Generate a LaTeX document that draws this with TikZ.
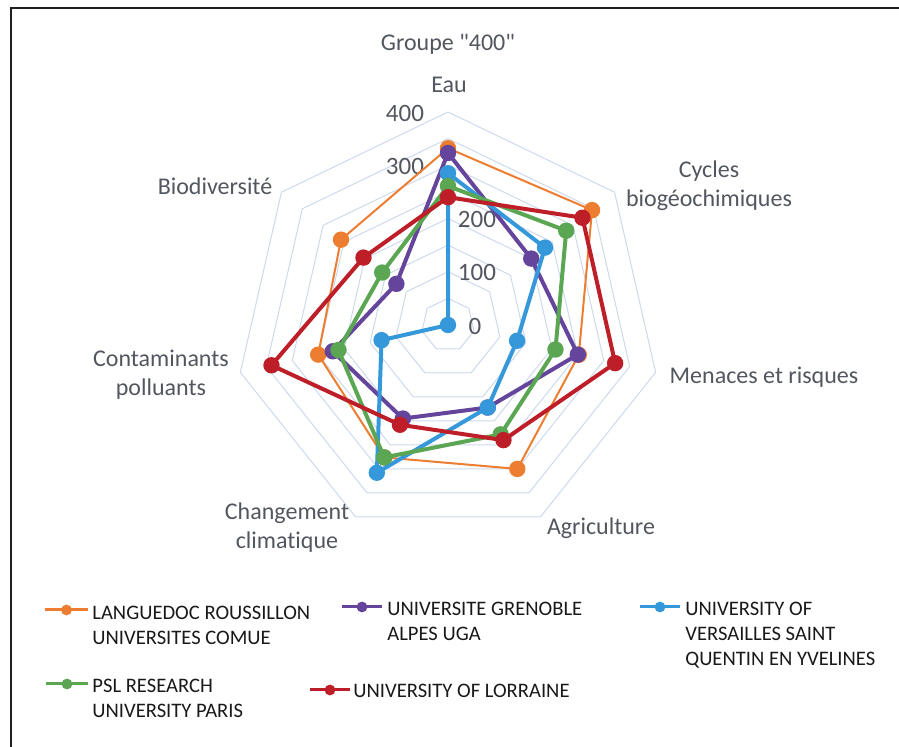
\documentclass[tikz,border=0pt]{standalone}
\usepackage{fontspec}
\setmainfont[Ligatures=NoCommon]{Carlito}
\usetikzlibrary{calc,positioning}

\definecolor{lrorange}{RGB}{237,125,49}
\definecolor{ugapurple}{RGB}{101,68,155}
\definecolor{uvsqblue}{RGB}{52,152,218}
\definecolor{pslgreen}{RGB}{91,166,83}
\definecolor{ulred}{RGB}{190,30,40}
\definecolor{gridcol}{RGB}{205,217,235}
\definecolor{txtgray}{RGB}{82,86,94}

% pixels per unit of score
\newcommand{\rs}{0.5325}

\tikzset{
  axislabel/.style={font=\fontsize{12}{14.5}\selectfont, text=txtgray, align=center, inner sep=0pt},
  ticklabel/.style={font=\fontsize{12.5}{14}\selectfont, text=txtgray, inner sep=0pt},
  legtext/.style={font=\fontsize{10.3}{12.5}\selectfont, text=black!90, align=left, inner sep=0pt, anchor=north west},
  gridline/.style={gridcol, line width=0.5pt},
}

% one series: name, colour, width, seven scores
\newcommand{\radarserie}[4]{%
  \foreach \v [count=\k from 0] in {#4}
    \coordinate (#1-\k) at ({90-\k*360/7}:{\v*\rs});
  \draw[#2, line width=#3, line join=round] (#1-0) -- (#1-1) -- (#1-2) -- (#1-3) -- (#1-4) -- (#1-5) -- (#1-6) -- cycle;
  \foreach \k in {0,...,6}
    \fill[#2] (#1-\k) circle (4.1pt);
}

% legend entry: name, colour, left end, right end
\newcommand{\legserie}[4]{%
  \coordinate (#1-a) at #3;
  \coordinate (#1-b) at #4;
  \draw[#2, line width=1.5pt] (#1-a) -- (#1-b);
  \fill[#2] ($(#1-a)!0.5!(#1-b)$) circle (2.7pt);
}

\begin{document}
\begin{tikzpicture}[x=0.5pt,y=0.5pt]
\useasboundingbox (-448,-422) rectangle (451,325);

\draw[line width=1pt, black!88] (-436.5,-422) -- (-436.5,317) -- (451,317);

% grid
\foreach \g in {50,100,...,400}
  \draw[gridline] (90:{\g*\rs}) \foreach \k in {1,...,6} { -- ({90-\k*360/7}:{\g*\rs}) } -- cycle;

\foreach \t/\x in {0/27,100/29,200/29,300/-43,400/-43}
  \node[ticklabel] (tick\t) at (\x,{\t*\rs-1}) {\t};

\node[axislabel] (titre) at (0,281) {Groupe \textquotedbl400\textquotedbl};
\node[axislabel] (eau) at (1,240) {Eau};
\node[axislabel] (cycles) at (261,139) {Cycles\\biogéochimiques};
\node[axislabel] (menaces) at (316,-52) {Menaces et risques};
\node[axislabel] (agri) at (153,-203) {Agriculture};
\node[axislabel] (climat) at (-161,-203) {Changement\\climatique};
\node[axislabel] (contam) at (-287,-50) {Contaminants\\polluants};
\node[axislabel] (biodiv) at (-233,139) {Biodiversité};

% series, order: Eau, Cycles, Menaces, Agriculture, Changement, Contaminants, Biodiversite
\radarserie{lr}{lrorange}{1pt}{332,346,252,300,276,250,257}
\radarserie{uga}{ugapurple}{2pt}{323,200,250,172,195,222,124}
\radarserie{uvsq}{uvsqblue}{2pt}{285,233,133,172,308,128,0}
\radarserie{psl}{pslgreen}{2pt}{261,284,207,228,276,211,158}
\radarserie{ul}{ulred}{2pt}{240,323,322,240,208,340,203}

% legend
\legserie{leglr}{lrorange}{(-403,-285)}{(-360,-285)}
\node[legtext] (txtlr) at (-356,-280.5) {LANGUEDOC ROUSSILLON\\UNIVERSITES COMUE};
\legserie{leguga}{ugapurple}{(-106,-282)}{(-66,-282)}
\node[legtext] (txtuga) at (-61,-276.5) {UNIVERSITE GRENOBLE\\ALPES UGA};
\legserie{leguvsq}{uvsqblue}{(192,-282)}{(232,-282)}
\node[legtext] (txtuvsq) at (237,-276.5) {UNIVERSITY OF\\VERSAILLES SAINT\\QUENTIN EN YVELINES};
\legserie{legpsl}{pslgreen}{(-402,-359)}{(-360,-359)}
\node[legtext] (txtpsl) at (-356,-353.5) {PSL RESEARCH\\UNIVERSITY PARIS};
\legserie{legul}{ulred}{(-138,-365)}{(-98,-365)}
\node[legtext] (txtul) at (-95,-358.5) {UNIVERSITY OF LORRAINE};

\end{tikzpicture}
\end{document}
